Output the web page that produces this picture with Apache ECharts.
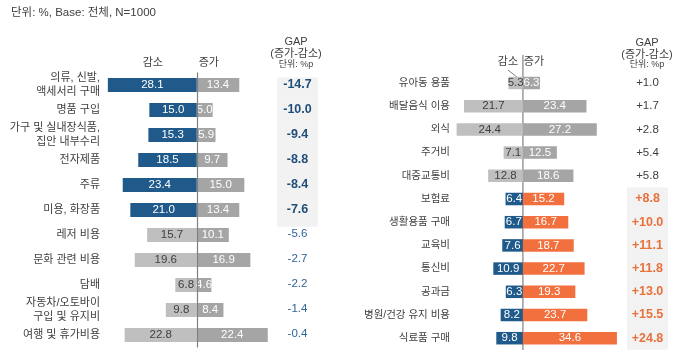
<!DOCTYPE html>
<html><head><meta charset="utf-8">
<script src="https://cdn.jsdelivr.net/npm/echarts@6/dist/echarts.min.js"></script>
<style>html,body{margin:0;padding:0;background:#fff}#c{width:680px;height:351px}</style>
</head><body><div id="c"></div>
<script>
const leftCats = ['의류, 신발,\n액세서리 구매','명품 구입','가구 및 실내장식품,\n집안 내부수리','전자제품','주류','미용, 화장품','레저 비용','문화 관련 비용','담배','자동차/오토바이\n구입 및 유지비','여행 및 휴가비용'];
const leftDec = [28.1,15.0,15.3,18.5,23.4,21.0,15.7,19.6,6.8,9.8,22.8];
const leftInc = [13.4,5.0,5.9,9.7,15.0,13.4,10.1,16.9,4.6,8.4,22.4];
const leftGap = [-14.7,-10.0,-9.4,-8.8,-8.4,-7.6,-5.6,-2.7,-2.2,-1.4,-0.4];
const leftHighlightCount = 6;

const rightCats = ['유아동 용품','배달음식 이용','외식','주거비','대중교통비','보험료','생활용품 구매','교육비','통신비','공과금','병원/건강 유지 비용','식료품 구매'];
const rightDec = [5.3,21.7,24.4,7.1,12.8,6.4,6.7,7.6,10.9,6.3,8.2,9.8];
const rightInc = [6.3,23.4,27.2,12.5,18.6,15.2,16.7,18.7,22.7,19.3,23.7,34.6];
const rightGap = [1.0,1.7,2.8,5.4,5.8,8.8,10.0,11.1,11.8,13.0,15.5,24.8];
const rightHighlightFrom = 5;

const FONT = "'Liberation Sans','Noto Sans CJK KR',sans-serif";
const BLUE = '#1F5A8A', LGRAY = '#BFBFBF', MGRAY = '#A5A5A5', ORANGE = '#F2703E', LINE = '#808080';
const TXT = '#404040';

const chart = echarts.init(document.getElementById('c'), null, {renderer:'canvas'});
const absFmt = p => Math.abs(p.value).toFixed(1);

function catAxis(gi, cats, show, size) {
  return {type:'category', gridIndex:gi, data:cats, inverse:true,
    axisLine:{show:false, onZero:false}, axisTick:{show:false}, splitLine:{show:false},
    axisLabel:{show:show, margin:5, color:TXT, fontSize:size||11, fontFamily:FONT, lineHeight:14, align:'right'}};
}
function valAxis(gi, min, max) {
  return {type:'value', gridIndex:gi, min:min, max:max, show:false, splitLine:{show:false}};
}

const option = {
  animation:false,
  textStyle:{fontFamily:FONT},
  title:{text:'단위: %, Base: 전체, N=1000', left:6, top:2,
    textStyle:{fontSize:11.5, fontWeight:'normal', color:TXT, fontFamily:FONT}},
  grid:[
    {left:105, width:171, top:72.5, height:275},
    {left:455, width:163, top:71.4, height:278.4},
    {left:277, width:41, top:77.5, height:275},
    {left:627, width:41, top:71.4, height:278.4}
  ],
  xAxis:[valAxis(0,-29,25), valAxis(1,-25,35), valAxis(2,0,1), valAxis(3,0,1)],
  yAxis:[catAxis(0,leftCats,true,11), catAxis(1,rightCats,true,10.5), catAxis(2,leftCats,false), catAxis(3,rightCats,false)],
  series:[
    {type:'bar', name:'L감소', xAxisIndex:0, yAxisIndex:0, stack:'L', barWidth:14,
      data:leftDec.map((v,i)=>({value:-v, itemStyle:{color:i<leftHighlightCount?BLUE:LGRAY},
        label:{color:i<leftHighlightCount?'#fff':TXT}})),
      label:{show:true, position:'inside', formatter:absFmt, fontSize:11.5, fontFamily:FONT},
      markLine:{silent:true, symbol:'none', label:{show:false}, lineStyle:{color:LINE, width:1.2, type:'solid'}, data:[{xAxis:0}]}},
    {type:'bar', name:'L증가', xAxisIndex:0, yAxisIndex:0, stack:'L', barWidth:14,
      data:leftInc.map(v=>({value:v, itemStyle:{color:MGRAY}})),
      label:{show:true, position:'inside', formatter:absFmt, fontSize:11.5, color:'#fff', fontFamily:FONT}},
    {type:'bar', name:'R감소', xAxisIndex:1, yAxisIndex:1, stack:'R', barWidth:12.5,
      data:rightDec.map((v,i)=>({value:-v, itemStyle:{color:i>=rightHighlightFrom?BLUE:LGRAY},
        label:{color:i>=rightHighlightFrom?'#fff':TXT}})),
      label:{show:true, position:'inside', formatter:absFmt, fontSize:11.5, fontFamily:FONT}},
    {type:'bar', name:'R증가', xAxisIndex:1, yAxisIndex:1, stack:'R', barWidth:12.5,
      data:rightInc.map((v,i)=>({value:v, itemStyle:{color:i>=rightHighlightFrom?ORANGE:MGRAY}})),
      label:{show:true, position:'inside', formatter:absFmt, fontSize:11.5, color:'#fff', fontFamily:FONT}},
    {type:'bar', name:'LGAP', xAxisIndex:2, yAxisIndex:2, barWidth:'100%', silent:true,
      data:leftGap.map((v,i)=>{const h=i<leftHighlightCount; return {value:1,
        itemStyle:{color:h?'#F2F2F2':'rgba(0,0,0,0)'},
        label:{color:h?'#1F4E79':'#2F6496', fontWeight:h?'bold':'normal', fontSize:h?12.5:11.5}};}),
      label:{show:true, position:'inside', offset:[0,-5], fontFamily:FONT,
        formatter:p=>leftGap[p.dataIndex].toFixed(1)}},
    {type:'bar', name:'RGAP', xAxisIndex:3, yAxisIndex:3, barWidth:'100%', silent:true,
      data:rightGap.map((v,i)=>{const h=i>=rightHighlightFrom; return {value:1,
        itemStyle:{color:h?'#F2F2F2':'rgba(0,0,0,0)'},
        label:{color:h?'#E8703A':TXT, fontWeight:h?'bold':'normal', fontSize:h?12.5:11.5}};}),
      label:{show:true, position:'inside', fontFamily:FONT,
        formatter:p=>'+'+rightGap[p.dataIndex].toFixed(1)}}
  ]
};
chart.setOption(option);

const rx = chart.convertToPixel({xAxisIndex:1}, 0);
const lx = chart.convertToPixel({xAxisIndex:0}, 0);
function txt(x,y,t,size,color){return {type:'text', x:x, y:y, style:{text:t, fill:color||TXT, fontSize:size, fontFamily:FONT, align:'center', verticalAlign:'middle'}};}
chart.setOption({graphic:[
  txt(lx-44,63,'감소',11), txt(lx+12,63,'증가',11),
  txt(296,42,'GAP',11), txt(296,54,'(증가-감소)',11), txt(296,65,'단위: %p',9),
  txt(rx-15,62,'감소',11), txt(rx+11,62,'증가',11),
  txt(647,43,'GAP',11), txt(647,55,'(증가-감소)',11), txt(647,65,'단위: %p',9),
  {type:'line', shape:{x1:rx, y1:55, x2:rx, y2:350}, style:{stroke:LINE, lineWidth:1.2}},
  {type:'line', shape:{x1:rx-15, y1:70, x2:rx-6, y2:77}, style:{stroke:LINE, lineWidth:1}}
]});
</script></body></html>
